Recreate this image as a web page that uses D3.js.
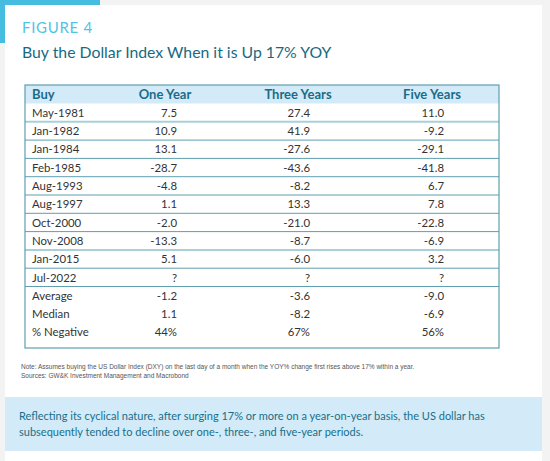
<!DOCTYPE html>
<html><head><meta charset="utf-8">
<script src="https://cdn.jsdelivr.net/npm/d3@7"></script>
<style>
html,body{margin:0;padding:0;background:#f3f3f3;}
svg{display:block;font-family:Lato, "Open Sans", sans-serif;}
</style></head>
<body><svg id="c" width="550" height="461"></svg>
<script>
const figureLabel = "FIGURE 4";
const title = "Buy the Dollar Index When it is Up 17% YOY";
const columns = ["Buy", "One Year", "Three Years", "Five Years"];
const buyDates = ["May-1981","Jan-1982","Jan-1984","Feb-1985","Aug-1993","Aug-1997","Oct-2000","Nov-2008","Jan-2015","Jul-2022","Average","Median","% Negative"];
const oneYear   = ["7.5","10.9","13.1","-28.7","-4.8","1.1","-2.0","-13.3","5.1","?","-1.2","1.1","44%"];
const threeYears= ["27.4","41.9","-27.6","-43.6","-8.2","13.3","-21.0","-8.7","-6.0","?","-3.6","-8.2","67%"];
const fiveYears = ["11.0","-9.2","-29.1","-41.8","6.7","7.8","-22.8","-6.9","3.2","?","-9.0","-6.9","56%"];
const notes = ["Note: Assumes buying the US Dollar Index (DXY) on the last day of a month when the YOY% change first rises above 17% within a year.",
               "Sources: GW&K Investment Management and Macrobond"];
const takeaway = ["Reflecting its cyclical nature, after surging 17% or more on a year-on-year basis, the US dollar has",
                  "subsequently tended to decline over one-, three-, and five-year periods."];

const svg = d3.select("#c");
// card
svg.append("rect").attr("x",5).attr("y",5).attr("width",537).attr("height",456).attr("fill","#fff");
svg.append("rect").attr("x",0).attr("y",0).attr("width",100).attr("height",5).attr("fill","#45bde0");
svg.append("rect").attr("x",0).attr("y",0).attr("width",5).attr("height",43).attr("fill","#45bde0");

svg.append("text").attr("x",22).attr("y",33).text(figureLabel)
  .attr("fill","#4fc3e6").attr("font-size",15).attr("letter-spacing",0.7);
svg.append("text").attr("x",22).attr("y",58).text(title)
  .attr("fill","#186a82").attr("font-size",15.8);

// table
const tL = 25, tR = 499, tTop = 85, headH = 18.5, rowH = 18.3, tBot = 348;
const rows = buyDates.map((d,i)=>({buy:d, v:[oneYear[i],threeYears[i],fiveYears[i]]}));
const y = d3.scaleBand().domain(d3.range(rows.length)).range([tTop+headH, tTop+headH+rowH*rows.length]);
const colRight = [177, 310, 444];
const colHeadCenter = [165, 298, 432];

svg.append("rect").attr("x",tL).attr("y",tTop).attr("width",tR-tL).attr("height",headH).attr("fill","#d3eaf8");
const head = svg.append("g");
head.append("text").attr("x",32).attr("y",tTop+13.8).text(columns[0]);
columns.slice(1).forEach((c,i)=>head.append("text").attr("x",colHeadCenter[i]).attr("y",tTop+13.8).attr("text-anchor","middle").text(c));
head.selectAll("text").attr("fill","#1b6c88").attr("font-size",13).attr("font-weight",700);

// row separators (after each dated row)
const sepRows = d3.range(10);
svg.append("g").selectAll("line").data(sepRows).join("line")
  .attr("x1",tL).attr("x2",tR)
  .attr("y1",i=>y(i)+y.bandwidth()).attr("y2",i=>y(i)+y.bandwidth())
  .attr("stroke",i=>(i===0||i===7)?"#a9d0d8":"#5f9fb0")
  .attr("stroke-width",i=>(i===0||i===7)?2:1);

const g = svg.append("g").selectAll("g").data(rows).join("g")
  .attr("transform",(d,i)=>`translate(0,${y(i)+13.3})`);
g.append("text").attr("x",32).text(d=>d.buy);
[0,1,2].forEach(k=>g.append("text").attr("x",colRight[k]).attr("text-anchor","end").text(d=>d.v[k]));
g.selectAll("text").attr("fill","#333").attr("font-size",11.4);

svg.append("rect").attr("x",tL).attr("y",tTop).attr("width",tR-tL).attr("height",tBot-tTop)
  .attr("fill","none").attr("stroke","#5f9fb0").attr("stroke-width",1.2);

// notes
svg.append("g").selectAll("text").data(notes).join("text")
  .attr("x",21).attr("y",(d,i)=>368.5+i*9.5).text(d=>d)
  .attr("fill","#555").attr("font-size",6.5).attr("font-family","'Liberation Sans Narrow', Arial, sans-serif");

// takeaway box
svg.append("rect").attr("x",5).attr("y",397).attr("width",537).attr("height",54).attr("fill","#d3eaf8");
svg.append("g").selectAll("text").data(takeaway).join("text")
  .attr("x",19).attr("y",(d,i)=>420+i*16).text(d=>d)
  .attr("fill","#17708a").attr("font-size",11);
</script></body></html>
